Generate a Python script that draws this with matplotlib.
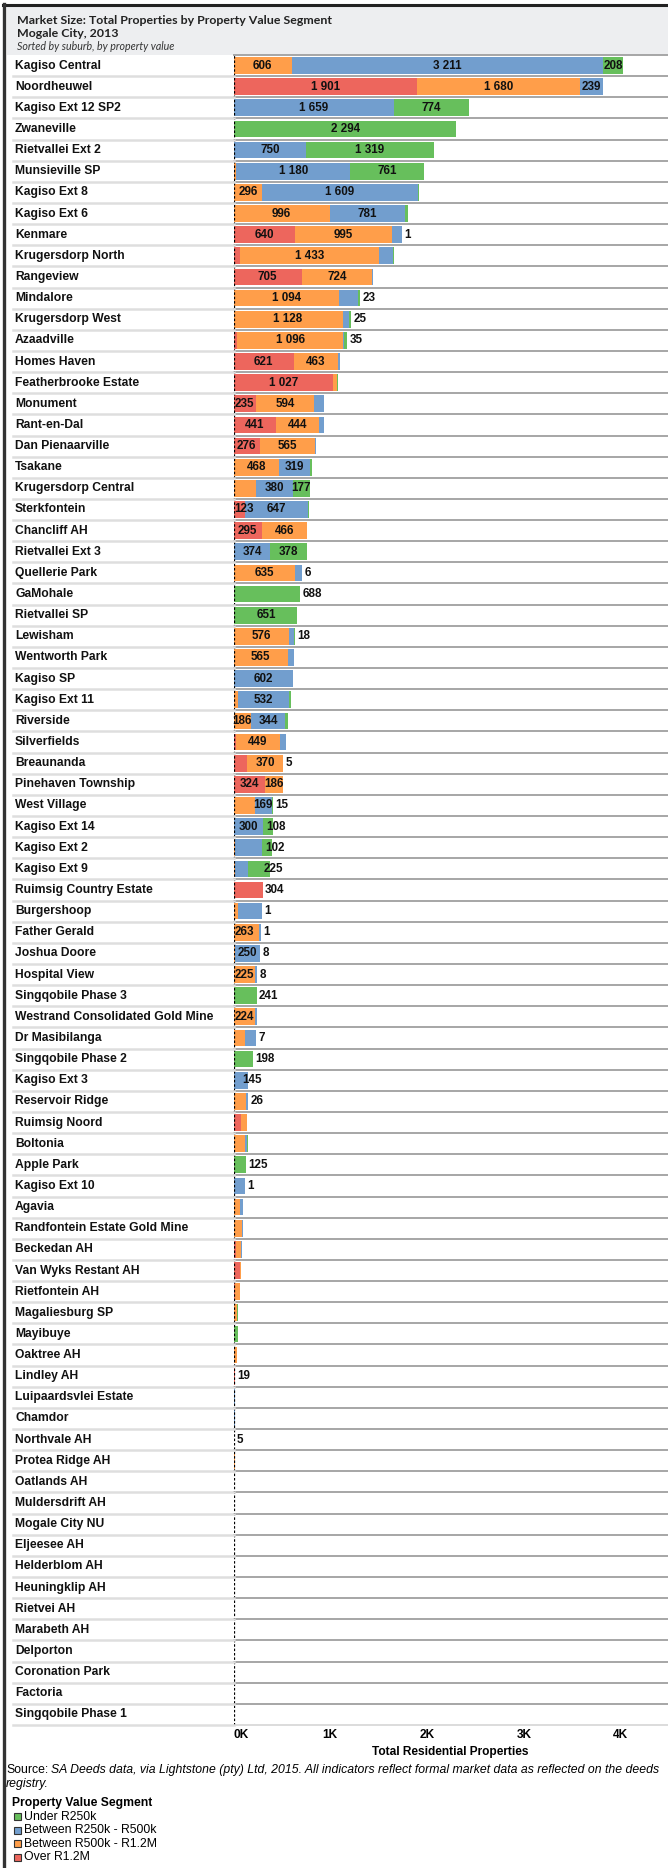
import matplotlib
matplotlib.use("Agg")
import matplotlib.pyplot as plt
import matplotlib.transforms as mtransforms
from matplotlib.lines import Line2D
from matplotlib.patches import Rectangle
import numpy as np

W, H = 668, 1868

suburbs = [
    "Kagiso Central", "Noordheuwel", "Kagiso Ext 12 SP2", "Zwaneville", "Rietvallei Ext 2",
    "Munsieville SP", "Kagiso Ext 8", "Kagiso Ext 6", "Kenmare", "Krugersdorp North",
    "Rangeview", "Mindalore", "Krugersdorp West", "Azaadville", "Homes Haven",
    "Featherbrooke Estate", "Monument", "Rant-en-Dal", "Dan Pienaarville", "Tsakane",
    "Krugersdorp Central", "Sterkfontein", "Chancliff AH", "Rietvallei Ext 3", "Quellerie Park",
    "GaMohale", "Rietvallei SP", "Lewisham", "Wentworth Park", "Kagiso SP",
    "Kagiso Ext 11", "Riverside", "Silverfields", "Breaunanda", "Pinehaven Township",
    "West Village", "Kagiso Ext 14", "Kagiso Ext 2", "Kagiso Ext 9", "Ruimsig Country Estate",
    "Burgershoop", "Father Gerald", "Joshua Doore", "Hospital View", "Singqobile Phase 3",
    "Westrand Consolidated Gold Mine", "Dr Masibilanga", "Singqobile Phase 2", "Kagiso Ext 3", "Reservoir Ridge",
    "Ruimsig Noord", "Boltonia", "Apple Park", "Kagiso Ext 10", "Agavia",
    "Randfontein Estate Gold Mine", "Beckedan AH", "Van Wyks Restant AH", "Rietfontein AH", "Magaliesburg SP",
    "Mayibuye", "Oaktree AH", "Lindley AH", "Luipaardsvlei Estate", "Chamdor",
    "Northvale AH", "Protea Ridge AH", "Oatlands AH", "Muldersdrift AH", "Mogale City NU",
    "Eljeesee AH", "Helderblom AH", "Heuningklip AH", "Rietvei AH", "Marabeth AH",
    "Delporton", "Coronation Park", "Factoria", "Singqobile Phase 1",
]

# segments, stacked left to right
over_1200k = [0, 1901, 0, 0, 0, 0, 0, 0, 640, 69,
              705, 0, 0, 38, 621, 1027, 235, 441, 276, 0,
              0, 123, 295, 0, 0, 0, 0, 0, 0, 0,
              0, 0, 28, 141, 324, 0, 0, 0, 0, 304,
              0, 0, 0, 0, 0, 0, 0, 0, 0, 0,
              76, 0, 0, 0, 0, 0, 28, 69, 17, 10,
              0, 5, 19, 0, 0, 5, 0, 0, 0, 0,
              0, 0, 0, 0, 0, 0, 0, 0, 0]
r500k_1200k = [606, 1680, 0, 0, 0, 28, 296, 996, 995, 1433,
               724, 1094, 1128, 1096, 463, 45, 594, 444, 565, 468,
               234, 0, 466, 7, 635, 0, 0, 576, 565, 8,
               45, 186, 449, 370, 186, 224, 0, 17, 17, 0,
               48, 263, 20, 225, 0, 224, 121, 0, 10, 127,
               65, 120, 0, 0, 69, 86, 48, 10, 52, 28,
               0, 31, 0, 8, 0, 0, 12, 0, 6, 0,
               0, 3, 0, 0, 0, 0, 3, 3, 0]
r250k_500k = [3211, 239, 1659, 10, 750, 1180, 1609, 781, 103, 145,
              10, 190, 62, 5, 17, 0, 103, 52, 14, 319,
              380, 647, 0, 374, 72, 0, 10, 45, 65, 602,
              532, 344, 62, 5, 0, 169, 300, 279, 134, 0,
              245, 24, 250, 15, 0, 20, 107, 0, 145, 26,
              0, 17, 0, 114, 31, 10, 10, 0, 0, 0,
              5, 0, 0, 5, 15, 0, 0, 10, 0, 3,
              3, 0, 3, 0, 0, 3, 0, 0, 0]
under_250k = [208, 0, 774, 2294, 1319, 761, 10, 30, 1, 10,
              0, 23, 25, 35, 0, 8, 0, 0, 0, 24,
              177, 10, 0, 378, 6, 688, 651, 18, 0, 0,
              17, 38, 0, 0, 0, 15, 108, 102, 225, 0,
              1, 1, 8, 8, 241, 0, 7, 198, 0, 0,
              0, 10, 125, 1, 0, 0, 0, 0, 0, 10,
              41, 0, 0, 5, 0, 0, 0, 0, 0, 0,
              0, 0, 0, 3, 3, 0, 0, 0, 3]

# which segment values are printed: c = centred, l = from segment start,
# o = after bar end, e = on segment end
label_modes = [
    ".ccc", "ccc.", "..cc", "...c", "..cc", "..cc", ".cc.", ".cc.", "cc.o", ".c..",
    "cc..", ".c.o", ".c.o", ".c.o", "cc..", "c...", "cc..", "cc..", "cc..", ".cc.",
    "..cc", "l.c.", "cc..", "..cc", ".c.o", "...o", "...c", ".c.o", ".c..", "..c.",
    "..c.", ".cc.", ".c..", ".co.", "cc..", "..co", "..ce", "...e", "...e", "o...",
    "...o", ".l.o", "..co", ".c.o", "...o", ".c..", "...o", "...o", "..e.", "..o.",
    "....", "....", "...o", "...o", "....", "....", "....", "....", "....", "....",
    "....", "....", "o...", "....", "....", "o...", "....", "....", "....", "....",
    "....", "....", "....", "....", "....", "....", "....", "....", "....",
]

segments = ["Over R1.2M", "Between R500k - R1.2M", "Between R250k - R500k", "Under R250k"]
colors = ["#ED665D", "#FF9E4A", "#729ECE", "#67BF5C"]
ticks = [0, 1000, 2000, 3000, 4000]
tick_labels = ["0K", "1K", "2K", "3K", "4K"]

plt.rcParams['font.family'] = ['Liberation Sans', 'DejaVu Sans']

fig = plt.figure(figsize=(W / 100, H / 100), dpi=100)
fig.patch.set_facecolor("white")


def fx(x):
    return x / W


def fy(y):
    return 1 - y / H


plot_left, plot_top, plot_bottom = 233.5, 55, 1725
ax = fig.add_axes([fx(plot_left), fy(plot_bottom), 1 - fx(plot_left), (plot_bottom - plot_top) / H])
n = len(suburbs)
ypos = np.arange(n)
ax.set_xlim(0, (W - plot_left) / 0.09677)
ax.set_ylim(n - 0.5, -0.5)
ax.axis("off")

data = np.array([over_1200k, r500k_1200k, r250k_500k, under_250k], dtype=float)
lefts = np.zeros(n)
for j in range(4):
    ax.barh(ypos, data[j], left=lefts, height=0.79, color=colors[j], zorder=2)
    lefts = lefts + data[j]
totals = lefts

# labels in / after the bars
starts = np.vstack([np.zeros(n), np.cumsum(data, axis=0)[:-1]])
lab_kw = dict(va="center", fontsize=8.4, fontweight="bold", zorder=3, color="#111111")
for i in range(n):
    for j in range(4):
        m = label_modes[i][j]
        if m == ".":
            continue
        v = int(data[j, i])
        txt = f"{v:,}".replace(",", " ")
        if m == "c":
            ax.text(starts[j, i] + data[j, i] / 2, i, txt, ha="center", **lab_kw)
        elif m == "l":
            ax.annotate(txt, (starts[j, i], i), xytext=(0.5, 0), textcoords="offset points",
                        ha="left", **lab_kw)
        elif m == "o":
            ax.annotate(txt, (totals[i], i), xytext=(1.6, 0), textcoords="offset points",
                        ha="left", **lab_kw)
        else:
            ax.annotate(txt, (starts[j, i] + data[j, i], i), xytext=(2.5, 0), textcoords="offset points",
                        ha="center", **lab_kw)

# row separators
lab_tr = mtransforms.blended_transform_factory(fig.transFigure, ax.transData)
row_tr = mtransforms.blended_transform_factory(ax.transAxes, ax.transData)
for k in range(n + 1):
    yk = k - 0.5
    ax.plot([0, 1], [yk, yk], transform=row_tr,
            color="#a6a6a6" if k < n else "#dcdcdc", lw=1.4, zorder=1, clip_on=False)
    if k > 0:
        fig.add_artist(Line2D([fx(13), fx(plot_left)], [yk, yk], transform=lab_tr,
                              color="#dedede", lw=1.8))

ax.axvline(0, color="black", lw=0.9, ls=(0, (2, 1.5)), zorder=4)

for i, name in enumerate(suburbs):
    ax.text(fx(15), i, name, transform=lab_tr, ha="left", va="center",
            fontsize=8.7, fontweight="bold", color="#111111")

# x axis
tick_tr = mtransforms.blended_transform_factory(ax.transData, fig.transFigure)
for t, lab in zip(ticks, tick_labels):
    ax.text(t, fy(1735), lab, transform=tick_tr, ha="left" if t == 0 else "center", va="center",
            fontsize=8.6, fontweight="bold", clip_on=False)
ax.text(0.5, fy(1752), "Total Residential Properties", transform=mtransforms.blended_transform_factory(
    ax.transAxes, fig.transFigure), ha="center", va="center", fontsize=8.6, fontweight="bold")

# header and frame
fig.add_artist(Rectangle((fx(7), fy(55)), 1 - fx(7), (55 - 6) / H, transform=fig.transFigure,
                         facecolor="#edeef0", edgecolor="none", zorder=0))
fig.add_artist(Line2D([fx(3), 1], [fy(5), fy(5)], color="#222222", lw=2.2))
fig.add_artist(Line2D([fx(4), fx(4)], [fy(4), 0], color="#333333", lw=2.4))

head_font = ["Lato", "DejaVu Sans"]
fig.text(fx(17), fy(20), "Market Size: Total Properties by Property Value Segment",
         family=head_font, fontweight="bold", fontsize=8.9, va="center", color="#222222")
fig.text(fx(17), fy(33.5), "Mogale City, 2013", family=head_font, fontweight="bold",
         fontsize=8.9, va="center", color="#222222")
fig.text(fx(17), fy(46), "Sorted by suburb, by property value", family=head_font,
         style="italic", fontsize=7.7, va="center", color="#333333")

# source note
renderer = fig.canvas.get_renderer()
src = fig.text(fx(6), fy(1770), "Source:", fontsize=8.8, va="center")
bb = src.get_window_extent(renderer)
fig.text((bb.x1 + 3) / W, fy(1770),
         "SA Deeds data, via Lightstone (pty) Ltd, 2015. All indicators reflect formal market data as reflected on the deeds",
         fontsize=8.8, style="italic", va="center")
fig.text(fx(6), fy(1783.5), "registry.", fontsize=8.8, style="italic", va="center")

# legend
fig.text(fx(12), fy(1803), "Property Value Segment", fontsize=8.7, fontweight="bold", va="center")
for k, j in enumerate([3, 2, 1, 0]):
    yc = 1816.7 + k * 13.5
    fig.add_artist(Rectangle((fx(14), fy(yc + 3.3)), 6.6 / W, 6.6 / H, transform=fig.transFigure,
                             facecolor=colors[j], edgecolor="#333333", lw=0.8))
    fig.text(fx(24.5), fy(yc), segments[j], fontsize=8.8, va="center")

fig.savefig("out.png", dpi=100)
